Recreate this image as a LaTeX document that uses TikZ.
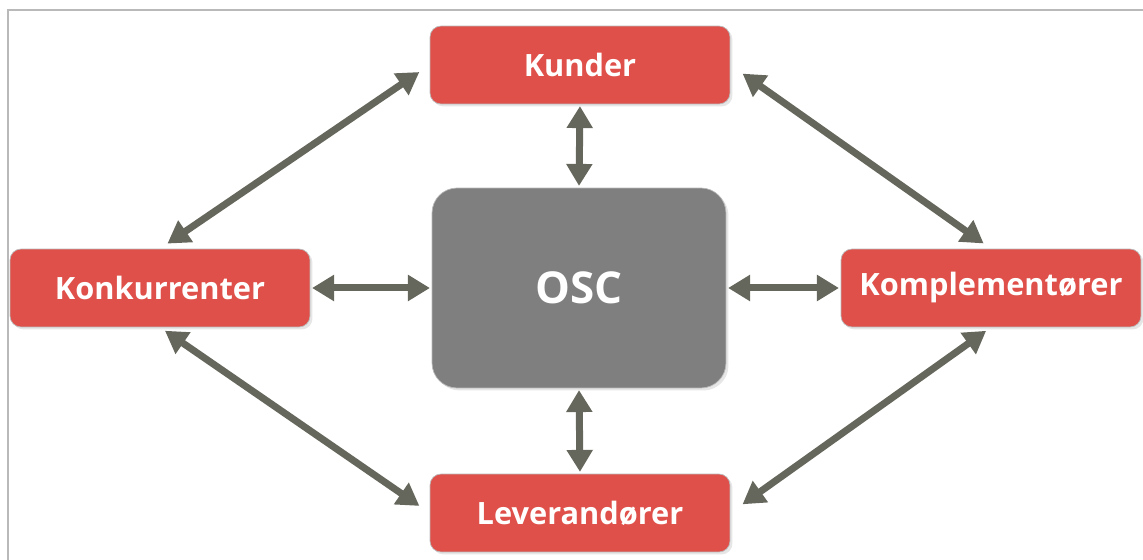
\documentclass[tikz,border=0pt]{standalone}
\usepackage{fontspec}
\setmainfont{Open Sans}
\usetikzlibrary{arrows.meta,shadows}
\definecolor{boxred}{HTML}{E0504A}
\definecolor{oscgray}{HTML}{7F7F7F}
\definecolor{arrowgray}{HTML}{66675C}
\tikzset{
  actor/.style={draw=gray!55,fill=boxred,rounded corners=0.22cm,
    minimum width=6cm,minimum height=1.56cm,text=white,
    font=\bfseries\fontsize{17.5}{21}\selectfont,
    drop shadow={opacity=0.2,shadow xshift=0.05cm,shadow yshift=-0.05cm}},
  link/.style={arrowgray,line width=0.14cm,
    {Triangle[length=0.44cm,width=0.5cm]}-{Triangle[length=0.44cm,width=0.5cm]}},
}
\begin{document}
\begin{tikzpicture}[x=0.02cm,y=-0.02cm]
\useasboundingbox (0,0) rectangle (1143,560);
% outer frame, cut by the page edge
\draw[gray!55,line width=1.2pt] (8,580) -- (8,10) -- (1160,10);

\node[actor] (kunder) at (580,65) {Kunder};
\node[actor] (konk) at (160,288) {Konkurrenter};
\node[actor] (komp) at (991,288) {Komplementører};
\node[actor] (lev) at (580,513) {Leverandører};
\node[draw=gray!55,fill=oscgray,rounded corners=0.5cm,minimum width=5.88cm,
  minimum height=4cm,text=white,font=\bfseries\fontsize{25}{30}\selectfont,
  drop shadow={opacity=0.2,shadow xshift=0.05cm,shadow yshift=-0.05cm}] (osc) at (579,288) {OSC};

\draw[link,shorten <=1pt,shorten >=1pt] (kunder.south) -- (osc.north);
\draw[link,shorten <=1pt,shorten >=1pt] (osc.south) -- (lev.north);
\draw[link,shorten <=1pt,shorten >=1pt] (konk.east) -- (osc.west);
\draw[link,shorten <=1pt,shorten >=1pt] (osc.east) -- (komp.west);

\draw[link,shorten <=0.18cm,shorten >=0.25cm] (konk.north) -- (kunder.west);
\draw[link,shorten <=0.3cm,shorten >=0.18cm] (kunder.east) -- (komp.north);
\draw[link,shorten <=0.12cm,shorten >=0.25cm] (konk.south) -- (lev.west);
\draw[link,shorten <=0.3cm,shorten >=0.12cm] (lev.east) -- (komp.south);
\end{tikzpicture}
\end{document}
